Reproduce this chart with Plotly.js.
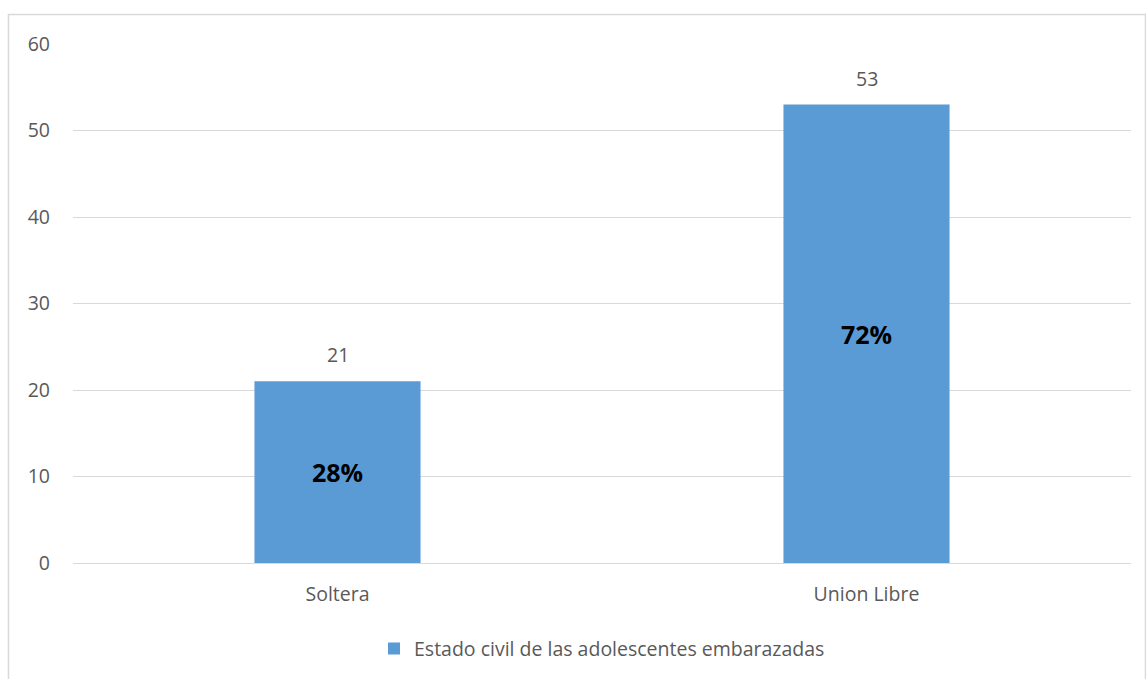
<!DOCTYPE html>
<html>
<head>
<meta charset="utf-8">
<script src="https://cdn.plot.ly/plotly-3.0.1.min.js"></script>
<style>
html,body{margin:0;padding:0;background:#fff;}
#chart{width:1146px;height:679px;}
</style>
</head>
<body>
<div id="chart"></div>
<script>
const categories = ["Soltera", "Union Libre"];
const counts = [21, 53];
const percents = ["28%", "72%"];
const seriesName = "Estado civil de las adolescentes embarazadas";
const yTicks = [0, 10, 20, 30, 40, 50, 60];

const textColor = "#595959";
const fontFam = "'Open Sans', 'Noto Sans', sans-serif";

const trace = {
  type: "bar",
  x: categories,
  y: counts,
  name: seriesName,
  marker: {color: "#5B9BD5"},
  text: percents,
  texttemplate: "<b>%{text}</b>",
  textposition: "inside",
  insidetextanchor: "middle",
  insidetextfont: {color: "#000000", size: 25, family: fontFam},
  hoverinfo: "x+y",
  showlegend: true
};

const annotations = categories.map((c, i) => ({
  x: c, y: counts[i], xref: "x", yref: "y",
  text: String(counts[i]),
  showarrow: false,
  yanchor: "bottom",
  yshift: 11,
  font: {size: 19.5, color: textColor, family: fontFam}
}));

const layout = {
  width: 1146,
  height: 679,
  margin: {l: 73, r: 15, t: 44, b: 115},
  paper_bgcolor: "#ffffff",
  plot_bgcolor: "#ffffff",
  font: {family: fontFam, color: textColor, size: 19.5},
  bargap: 0.686,
  xaxis: {
    type: "category",
    showgrid: false,
    showline: false,
    ticks: "",
    ticklabelstandoff: 17,
    tickfont: {size: 19.5, color: textColor},
    zeroline: false
  },
  yaxis: {
    range: [0, 60],
    tickvals: yTicks,
    ticktext: yTicks.map(String),
    showgrid: true,
    gridcolor: "#D9D9D9",
    gridwidth: 1,
    zeroline: true,
    zerolinecolor: "#D9D9D9",
    zerolinewidth: 1,
    showline: false,
    ticks: "",
    ticklabelstandoff: 22,
    tickfont: {size: 19.5, color: textColor},
    fixedrange: true
  },
  legend: {
    orientation: "h",
    x: 0.5, xanchor: "center",
    y: -0.163, yanchor: "middle",
    font: {size: 19.5, color: textColor},
    itemwidth: 30
  },
  annotations: annotations,
  shapes: [{
    type: "rect", xref: "paper", yref: "paper",
    x0: -0.061, x1: 1.0137, y0: -0.25, y1: 1.0567,
    line: {color: "#D9D9D9", width: 1.5},
    fillcolor: "rgba(0,0,0,0)", layer: "below"
  }],
  showlegend: true
};

Plotly.newPlot("chart", [trace], layout, {displayModeBar: false, staticPlot: true});
</script>
</body>
</html>
